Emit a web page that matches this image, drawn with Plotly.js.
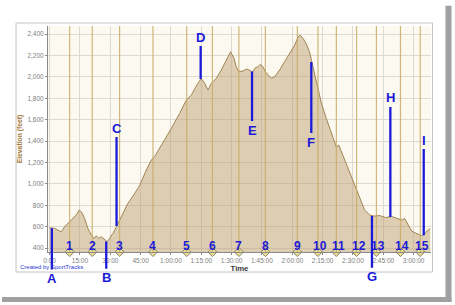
<!DOCTYPE html>
<html>
<head>
<meta charset="utf-8">
<script src="https://cdn.plot.ly/plotly-3.0.1.min.js"></script>
<style>html,body{margin:0;padding:0;background:#fff;}#chart{width:455px;height:305px;}</style>
</head>
<body>
<div id="chart"></div>
<script>
// Elevation profile: time in minutes, elevation in feet
const timeMin = [0, 2.5, 4.1, 5.8, 7.4, 9.1, 10.7, 13.2, 14.6, 15.8, 17.3, 18.9, 20.6, 21.9, 23.1, 24.2, 25.6, 27.2, 28.5, 29.7, 31.3, 33, 33.8, 35.5, 37.1, 38.7, 40.6, 42, 44.5, 47.8, 50.3, 51.9, 56, 60.2, 64.3, 67.6, 70.1, 71.7, 73.3, 75, 76.7, 78.3, 80, 82.4, 84.9, 87.4, 89.5, 91.2, 92.3, 93.5, 95.6, 97.3, 98.9, 100.5, 101.7, 103, 104.2, 105.5, 106.7, 108, 109.6, 111.3, 113.7, 116.2, 118.7, 121.2, 123.1, 124.1, 125.3, 127, 128.6, 130.2, 131.9, 134.4, 136.8, 139.3, 141.8, 143, 144.3, 145.9, 148.4, 150.8, 153.3, 155.8, 158.3, 160.7, 163.2, 166.2, 169.1, 171.6, 174.1, 175.6, 177, 179, 181, 183, 184.5, 186, 188.2];
const elevFt = [590, 584, 568, 552, 599, 631, 662, 709, 755, 737, 678, 584, 522, 491, 515, 491, 506, 484, 459, 491, 537, 599, 631, 693, 755, 818, 868, 911, 984, 1129, 1223, 1254, 1379, 1519, 1659, 1784, 1831, 1887, 1940, 1985, 1940, 1877, 1940, 1987, 2064, 2158, 2235, 2174, 2095, 2048, 2055, 2074, 2058, 2048, 2086, 2095, 2118, 2095, 2048, 2018, 1987, 2002, 2064, 2142, 2220, 2298, 2382, 2387, 2361, 2307, 2228, 2102, 1940, 1753, 1613, 1487, 1344, 1363, 1300, 1223, 1101, 980, 858, 755, 709, 699, 704, 685, 695, 680, 662, 676, 624, 559, 540, 522, 517, 550, 582];

// Laps
const lapTimes = [9.9, 21.1, 34.6, 51.1, 67.8, 80.5, 93.6, 106.7, 122.5, 132.7, 141.8, 151.8, 161.6, 173.5, 183.3];
const lapLabels = ["1","2","3","4","5","6","7","8","9","10","11","12","13","14","15"];

// Waypoints
const wpLabels = ["A","B","C","D","E","F","G","H","I"];
const wpTimes = [1.1, 28.0, 33.1, 74.7, 100.1, 129.4, 159.4, 168.5, 185.0];
const wpElev = [585, 462, 605, 1980, 2050, 2140, 700, 690, 520];
const wpLabelElev = [116, 122, 1522, 2373, 1503, 1391, 132, 1803, 1410];

// Axis ticks
const xTickVals = [0, 15, 30, 45, 60, 75, 90, 105, 120, 135, 150, 165, 180];
const xTickText = ["0:00","15:00","30:00","45:00","1:00:00","1:15:00","1:30:00","1:45:00","2:00:00","2:15:00","2:30:00","2:45:00","3:00:00"];
const yTickVals = [400, 600, 800, 1000, 1200, 1400, 1600, 1800, 2000, 2200, 2400];
const yTickText = ["400","600","800","1,000","1,200","1,400","1,600","1,800","2,000","2,200","2,400"];

const xRange = [-0.8, 188.6];
const yRange = [363, 2476];

const BLUE = "#1a1ad8";
const FONT = "Liberation Sans, Arial, sans-serif";

const traces = [
  {
    x: timeMin, y: elevFt, type: "scatter", mode: "lines",
    fill: "tozeroy", fillcolor: "rgba(185,150,105,0.45)",
    line: {color: "#a08552", width: 1}, hoverinfo: "skip"
  },
  {
    x: lapTimes, y: lapTimes.map(() => yRange[0]), type: "scatter", mode: "markers",
    marker: {symbol: "diamond", size: 7, color: "#e9dc96", line: {color: "#8c8466", width: 1}},
    cliponaxis: false, hoverinfo: "skip"
  }
];

const shapes = [];
// outer frame
shapes.push({type: "rect", xref: "paper", yref: "paper", x0: -0.0834, x1: 1.0039, y0: -0.0885, y1: 1.0133,
  line: {color: "#c4c4c4", width: 1}, fillcolor: "rgba(0,0,0,0)", layer: "below"});
// shadow
shapes.push({type: "rect", xref: "paper", yref: "paper", x0: 1.0378, x1: 1.0535, y0: -0.2212, y1: 1.09,
  line: {width: 0}, fillcolor: "#a0a0a0", layer: "below"});
shapes.push({type: "rect", xref: "paper", yref: "paper", x0: -0.12, x1: 1.0535, y0: -0.2212, y1: -0.1991,
  line: {width: 0}, fillcolor: "#a0a0a0", layer: "below"});
// lap lines
lapTimes.forEach(t => shapes.push({type: "line", xref: "x", yref: "paper", x0: t, x1: t, y0: 0, y1: 1,
  line: {color: "rgba(200,170,100,0.85)", width: 1.2}, layer: "above"}));

const annotations = [];
lapTimes.forEach((t, i) => annotations.push({
  x: t, y: 0, xref: "x", yref: "paper", yanchor: "bottom", xanchor: "center", yshift: -3, xshift: lapLabels[i].length > 1 ? 2 : 0,
  text: "<b>" + lapLabels[i] + "</b>", showarrow: false, font: {family: FONT, size: 12, color: BLUE}
}));
wpLabels.forEach((lab, i) => annotations.push({
  x: wpTimes[i], y: wpElev[i], xref: "x", yref: "y",
  ax: wpTimes[i], ay: wpLabelElev[i], axref: "x", ayref: "y",
  text: "<b>" + lab + "</b>", showarrow: true, arrowhead: 0, arrowwidth: 2.3, arrowcolor: BLUE, standoff: 0,
  font: {family: FONT, size: 13, color: BLUE}
}));
annotations.push({x: -0.078, y: -0.068, xref: "paper", yref: "paper", xanchor: "left", yanchor: "middle",
  text: "Created by SportTracks", showarrow: false, font: {family: FONT, size: 6, color: "#2a3ad0"}});

const layout = {
  width: 455, height: 305,
  margin: {l: 48, r: 23.5, t: 26, b: 53, pad: 0},
  paper_bgcolor: "#ffffff", plot_bgcolor: "#fcf9f1",
  showlegend: false,
  xaxis: {
    range: xRange, tickvals: xTickVals, ticktext: xTickText,
    showgrid: true, gridcolor: "#dedad2", gridwidth: 1, zeroline: false,
    showline: true, linecolor: "#8a8a8a", linewidth: 1,
    ticks: "outside", ticklen: 2, tickcolor: "#8a8a8a",
    tickfont: {family: FONT, size: 6.5, color: "#7e7e7e"},
    title: {text: "<b>Time</b>", font: {family: FONT, size: 7.7, color: "#3a3a3a"}, standoff: 2}
  },
  yaxis: {
    range: yRange, tickvals: yTickVals, ticktext: yTickText,
    showgrid: true, gridcolor: "#dedad2", gridwidth: 1, zeroline: false,
    showline: true, linecolor: "#8a8a8a", linewidth: 1,
    ticks: "outside", ticklen: 2, tickcolor: "#8a8a8a",
    tickfont: {family: FONT, size: 6.5, color: "#7e7e7e"},
    title: {text: "<b>Elevation (feet)</b>", font: {family: FONT, size: 6.8, color: "#a57a3c"}, standoff: 4}
  },
  shapes: shapes,
  annotations: annotations
};

Plotly.newPlot("chart", traces, layout, {staticPlot: true, displayModeBar: false});
</script>
</body>
</html>
